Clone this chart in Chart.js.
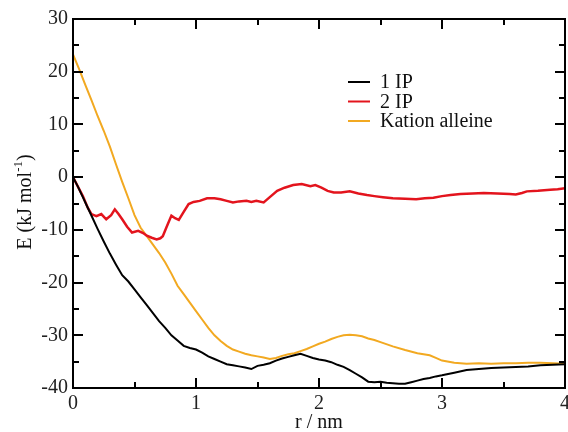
<!DOCTYPE html>
<html><head><meta charset="utf-8">
<script src="https://cdn.jsdelivr.net/npm/chart.js@4/dist/chart.umd.min.js"></script>
<style>html,body{margin:0;padding:0;background:#fff;}canvas{display:block;}</style>
</head><body>
<canvas id="c" width="568" height="432"></canvas>
<script>
const seriesNames = ['1 IP', '2 IP', 'Kation alleine'];
const seriesColors = ['#000000', '#e3141d', '#f2a921'];

const x1 = [0,0.04,0.08,0.12,0.16,0.2,0.25,0.3,0.35,0.4,0.45,0.5,0.55,0.6,0.65,0.7,0.75,0.8,0.85,0.9,0.95,1.0,1.05,1.1,1.15,1.2,1.25,1.3,1.35,1.4,1.45,1.5,1.55,1.6,1.65,1.7,1.75,1.8,1.85,1.9,1.95,2.0,2.05,2.1,2.15,2.2,2.25,2.3,2.35,2.4,2.45,2.5,2.55,2.6,2.65,2.7,2.75,2.8,2.85,2.9,2.95,3.0,3.1,3.2,3.3,3.4,3.5,3.6,3.7,3.8,3.9,4.0];
const y1 = [0,-1.8,-3.8,-5.8,-7.8,-9.8,-12.2,-14.5,-16.6,-18.6,-19.8,-21.3,-22.8,-24.3,-25.8,-27.3,-28.6,-30.0,-31.0,-32.0,-32.4,-32.7,-33.3,-34.0,-34.5,-35.0,-35.5,-35.7,-35.9,-36.1,-36.4,-35.8,-35.6,-35.3,-34.8,-34.4,-34.1,-33.8,-33.5,-33.9,-34.3,-34.6,-34.8,-35.1,-35.6,-36.0,-36.6,-37.3,-38.0,-38.8,-38.9,-38.8,-39.0,-39.1,-39.2,-39.2,-38.9,-38.6,-38.3,-38.1,-37.8,-37.6,-37.1,-36.6,-36.4,-36.2,-36.1,-36.0,-35.9,-35.7,-35.6,-35.5];

const x2 = [0,0.04,0.08,0.12,0.15,0.19,0.23,0.27,0.31,0.34,0.37,0.4,0.44,0.48,0.53,0.57,0.6,0.64,0.68,0.71,0.73,0.76,0.8,0.83,0.86,0.9,0.94,0.98,1.03,1.09,1.15,1.2,1.25,1.3,1.35,1.41,1.45,1.49,1.55,1.6,1.66,1.72,1.79,1.86,1.93,1.97,2.02,2.07,2.12,2.18,2.25,2.32,2.39,2.45,2.52,2.6,2.7,2.79,2.86,2.93,3.0,3.07,3.15,3.25,3.34,3.45,3.55,3.6,3.65,3.69,3.78,3.88,3.94,4.0];
const y2 = [0,-1.8,-3.6,-5.8,-7.0,-7.4,-7.0,-8.0,-7.2,-6.1,-7.0,-8.0,-9.4,-10.5,-10.2,-10.6,-11.1,-11.5,-11.8,-11.6,-11.2,-9.5,-7.3,-7.8,-8.1,-6.6,-5.1,-4.7,-4.5,-4.0,-4.0,-4.2,-4.5,-4.8,-4.6,-4.5,-4.7,-4.5,-4.8,-3.8,-2.6,-2.0,-1.5,-1.3,-1.7,-1.5,-2.0,-2.6,-2.9,-2.9,-2.7,-3.1,-3.4,-3.6,-3.8,-4.0,-4.1,-4.2,-4.0,-3.9,-3.6,-3.4,-3.2,-3.1,-3.0,-3.1,-3.2,-3.3,-3.0,-2.7,-2.6,-2.4,-2.3,-2.1];

const x3 = [0,0.05,0.1,0.15,0.2,0.25,0.3,0.35,0.4,0.45,0.5,0.55,0.6,0.65,0.7,0.75,0.8,0.85,0.9,0.95,1.0,1.05,1.1,1.15,1.2,1.25,1.3,1.35,1.4,1.45,1.5,1.55,1.6,1.65,1.7,1.75,1.8,1.85,1.9,1.95,2.0,2.05,2.1,2.15,2.2,2.25,2.3,2.35,2.4,2.45,2.5,2.6,2.7,2.8,2.9,2.95,3.0,3.1,3.2,3.3,3.4,3.5,3.6,3.7,3.8,3.9,4.0];
const y3 = [23.3,20.5,17.5,14.6,11.6,8.8,5.8,2.4,-0.9,-4.0,-7.2,-9.6,-11.2,-12.8,-14.4,-16.2,-18.3,-20.6,-22.2,-23.8,-25.4,-27.0,-28.6,-30.0,-31.1,-32.0,-32.7,-33.1,-33.5,-33.8,-34.0,-34.2,-34.5,-34.3,-33.9,-33.6,-33.4,-33.0,-32.6,-32.1,-31.6,-31.2,-30.7,-30.3,-30.0,-29.9,-30.0,-30.2,-30.6,-30.9,-31.3,-32.1,-32.8,-33.4,-33.8,-34.3,-34.8,-35.2,-35.4,-35.3,-35.4,-35.3,-35.3,-35.2,-35.2,-35.3,-35.4];

const xTitle = 'r / nm';
const yTitleMain = 'E (kJ mol';
const yTitleSup = '-1';
const yTitleEnd = ')';

const FONT = '"Liberation Serif", "Times New Roman", serif';
const FS = 20;

function pts(xs, ys) { return xs.map((x, i) => ({x: x, y: ys[i]})); }

const framePlugin = {
  id: 'frame',
  afterDraw(chart) {
    const ctx = chart.ctx, a = chart.chartArea;
    const xs = chart.scales.x, ys = chart.scales.y;
    ctx.save();
    ctx.strokeStyle = '#000';
    ctx.lineWidth = 2;
    ctx.strokeRect(a.left, a.top, a.right - a.left, a.bottom - a.top);
    ctx.beginPath();
    for (let v = 0; v <= 4.0001; v += 0.5) {
      const p = Math.round(xs.getPixelForValue(v));
      const L = (Math.abs(v - Math.round(v)) < 1e-6) ? 10 : 6;
      ctx.moveTo(p, a.bottom); ctx.lineTo(p, a.bottom - L);
      ctx.moveTo(p, a.top); ctx.lineTo(p, a.top + L);
    }
    for (let v = -40; v <= 30; v += 5) {
      const p = Math.round(ys.getPixelForValue(v));
      const L = (v % 10 === 0) ? 10 : 6;
      ctx.moveTo(a.left, p); ctx.lineTo(a.left + L, p);
      ctx.moveTo(a.right, p); ctx.lineTo(a.right - L, p);
    }
    ctx.stroke();

    // legend
    const ds = chart.data.datasets;
    const lx = 348, ly = 82, dy = 19.5;
    ctx.font = FS + 'px ' + FONT;
    ctx.textBaseline = 'middle';
    ctx.textAlign = 'left';
    ds.forEach((d, i) => {
      const y = ly + i * dy;
      ctx.strokeStyle = d.borderColor;
      ctx.lineWidth = 2;
      ctx.beginPath(); ctx.moveTo(lx, y); ctx.lineTo(lx + 22, y); ctx.stroke();
      ctx.fillStyle = '#111';
      ctx.fillText(d.label, lx + 32, y + 1);
    });

    // y title with superscript
    ctx.save();
    ctx.translate(26, 202);
    ctx.rotate(-Math.PI / 2);
    ctx.fillStyle = '#111';
    ctx.textBaseline = 'middle';
    const f1 = FS + 'px ' + FONT, f2 = '13px ' + FONT;
    ctx.font = f1; const w1 = ctx.measureText(yTitleMain).width; const w3 = ctx.measureText(yTitleEnd).width;
    ctx.font = f2; const w2 = ctx.measureText(yTitleSup).width;
    let x0 = -(w1 + w2 + w3) / 2;
    ctx.font = f1; ctx.fillText(yTitleMain, x0, 0);
    ctx.font = f2; ctx.fillText(yTitleSup, x0 + w1, -7);
    ctx.font = f1; ctx.fillText(yTitleEnd, x0 + w1 + w2, 0);
    ctx.restore();

    // x title
    ctx.font = FS + 'px ' + FONT;
    ctx.textAlign = 'center';
    ctx.textBaseline = 'middle';
    ctx.fillStyle = '#111';
    ctx.fillText(xTitle, xs.getPixelForValue(2), 423);
    ctx.restore();
  }
};

new Chart(document.getElementById('c'), {
  type: 'line',
  data: {
    datasets: [
      {label: seriesNames[0], data: pts(x1, y1), borderColor: seriesColors[0], borderWidth: 2},
      {label: seriesNames[1], data: pts(x2, y2), borderColor: seriesColors[1], borderWidth: 2.5},
      {label: seriesNames[2], data: pts(x3, y3), borderColor: seriesColors[2], borderWidth: 2}
    ]
  },
  options: {
    responsive: false,
    animation: false,
    elements: {point: {radius: 0}, line: {tension: 0, fill: false}},
    layout: {padding: {top: 19, right: 3, left: 0, bottom: 0}},
    plugins: {legend: {display: false}, tooltip: {enabled: false}},
    scales: {
      x: {
        type: 'linear', min: 0, max: 4,
        grid: {display: false, drawTicks: false},
        border: {display: false},
        ticks: {stepSize: 1, padding: 4, color: '#222', font: {family: FONT, size: FS}},
        afterFit(s) { s.height = 44; s.paddingLeft = 0; s.paddingRight = 0; }
      },
      y: {
        type: 'linear', min: -40, max: 30,
        grid: {display: false, drawTicks: false},
        border: {display: false},
        ticks: {stepSize: 10, padding: 5, color: '#222', font: {family: FONT, size: FS}},
        afterFit(s) { s.width = 73; s.paddingTop = 0; s.paddingBottom = 0; }
      }
    }
  },
  plugins: [framePlugin]
});
</script>
</body></html>
